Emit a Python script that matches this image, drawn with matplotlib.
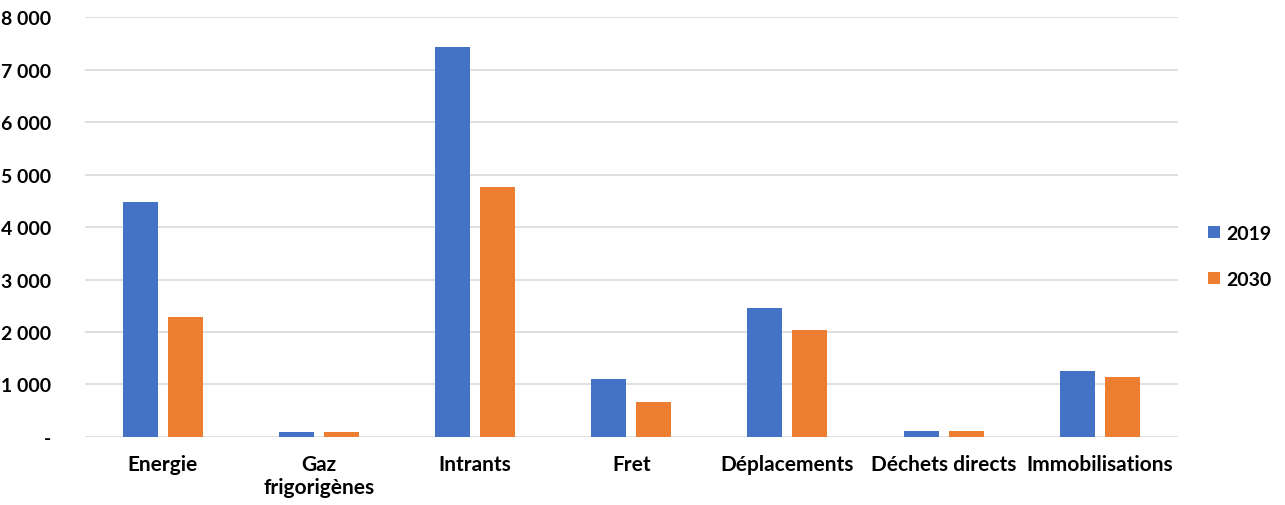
import numpy as np
import matplotlib.pyplot as plt
from matplotlib.ticker import FuncFormatter

plt.rcParams['font.family'] = ['Lato', 'DejaVu Sans']
plt.rcParams['font.weight'] = 'bold'

categories = ['Energie', 'Gaz\nfrigorigènes', 'Intrants', 'Fret',
              'Déplacements', 'Déchets directs', 'Immobilisations']
v2019 = [4470, 100, 7430, 1110, 2450, 110, 1250]
v2030 = [2280, 100, 4760, 665, 2030, 110, 1135]
years = ['2019', '2030']

blue = '#4472c4'
orange = '#ed7d31'

fig = plt.figure(figsize=(12.85, 5.06), dpi=100)
ax = fig.add_axes([0.066, 0.1344, 0.8506, 0.830])

x = np.arange(len(categories))
w = 0.224
off = 0.144
ax.bar(x - off, v2019, w, color=blue, label=years[0], zorder=3)
ax.bar(x + off, v2030, w, color=orange, label=years[1], zorder=3)

ax.set_xlim(-0.5, len(categories) - 0.5)
ax.set_ylim(0, 8000)
ax.set_yticks(range(0, 8001, 1000))


def fmt(v, pos):
    if v == 0:
        return '-'
    return f'{int(v):,}'.replace(',', ' ')


ax.yaxis.set_major_formatter(FuncFormatter(fmt))
ax.grid(axis='y', color='#d9d9d9', linewidth=1.2, zorder=0)
for s in ax.spines.values():
    s.set_visible(False)
ax.tick_params(axis='y', length=0, labelsize=14, pad=24)
ax.tick_params(axis='x', length=0, labelsize=15, pad=12)
ax.set_xticks(x)
ax.set_xticklabels(categories, linespacing=1.2, va='top')

leg = ax.legend(loc='center left', bbox_to_anchor=(1.012, 0.43), frameon=False,
                fontsize=14, handlelength=0.6, handleheight=0.6,
                handletextpad=0.3, labelspacing=1.5)

fig.savefig('out.png', dpi=100)
